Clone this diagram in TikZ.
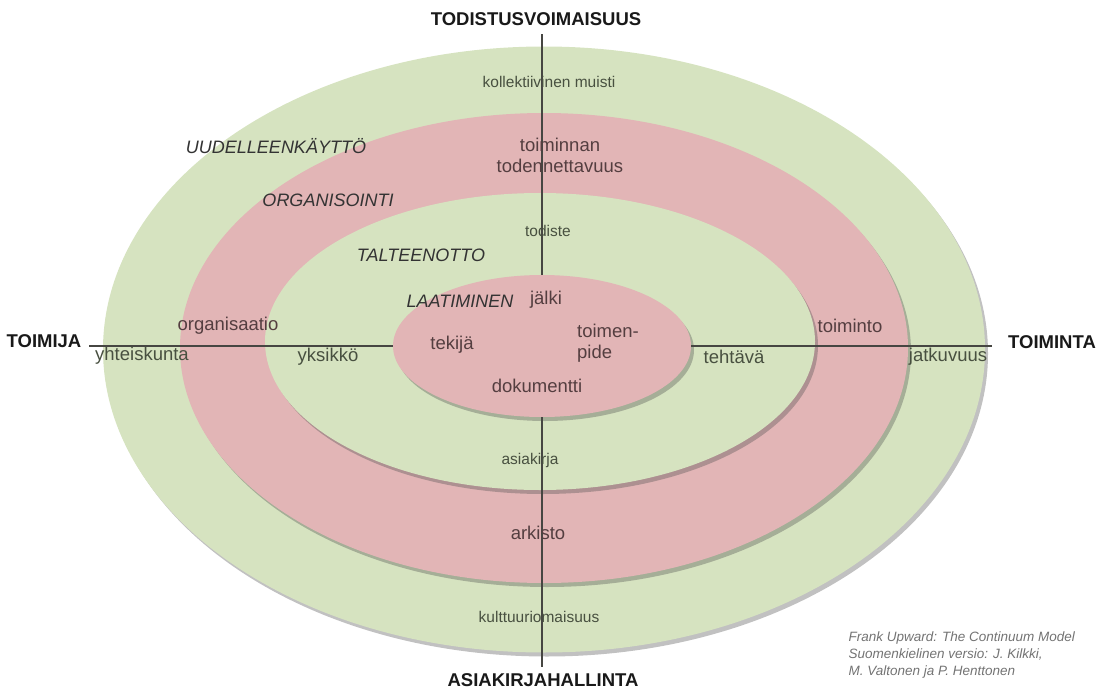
\documentclass[tikz,border=0pt]{standalone}
\usepackage{fontspec}
\setmainfont{Liberation Sans}
\usetikzlibrary{shapes.geometric,shadows}

\definecolor{ringgreen}{RGB}{214,227,192}
\definecolor{ringpink}{RGB}{226,181,182}
\definecolor{txtgreen}{RGB}{72,80,64}
\definecolor{txtpink}{RGB}{84,62,64}
\definecolor{axisline}{RGB}{70,70,66}

\tikzset{
  ring/.style={ellipse,inner sep=0pt,drop shadow={shadow xshift=3pt,shadow yshift=-4pt,opacity=0.35,fill=black!70}},
  big/.style={font=\fontsize{18.5}{21}\selectfont},
  small/.style={font=\fontsize{15.5}{18}\selectfont},
  phase/.style={font=\fontsize{18}{21}\selectfont\itshape,text=black!80},
  axis/.style={font=\fontsize{18.5}{21}\selectfont\bfseries,text=black!90,inner sep=2pt},
}

\begin{document}
\begin{tikzpicture}[x=1pt,y=-1pt]
        \useasboundingbox (0,0) rectangle (1103,693);
        % the four rings
        \node[ring,fill=ringgreen,minimum width=882pt,minimum height=606pt] (r1) at (544,349.5) {};
        \node[ring,fill=ringpink,minimum width=728pt,minimum height=470pt] (r2) at (544,348) {};
        \node[ring,fill=ringgreen,minimum width=550pt,minimum height=297pt] (r3) at (540,341.5) {};
        \node[ring,fill=ringpink,minimum width=298pt,minimum height=142pt] (r4) at (542,346) {};
        % axes
        \node[axis] (todist) at (536,19) {TODISTUSVOIMAISUUS};
        \node[axis] (toimija) at (44,341) {TOIMIJA};
        \node[axis] (toiminta) at (1052,342) {TOIMINTA};
        \node[axis] (hallinta) at (543,680) {ASIAKIRJAHALLINTA};
        \draw[axisline,line width=1.2pt] (r4.north) -- ([yshift=-6pt]r4.north |- todist.south);
        \draw[axisline,line width=1.2pt] (r4.west) -- ([xshift=5pt]r4.west -| toimija.east);
        \draw[axisline,line width=1.2pt] (r4.east) -- ([xshift=-14pt]r4.east -| toiminta.west);
        \draw[axisline,line width=1.2pt] (r4.south) -- ([yshift=4pt]r4.south |- hallinta.north);
        % phases
        \node[phase] (uudel) at (276,146) {UUDELLEENKÄYTTÖ};
        \node[phase] (organ) at (328,200) {ORGANISOINTI};
        \node[phase] (talte) at (421,255) {TALTEENOTTO};
        \node[phase] (laati) at (460,301) {LAATIMINEN};
        % outer ring
        \node[small,text=txtgreen] (kollekt) at (549,82) {kollektiivinen muisti};
        \node[big,text=txtgreen] (yhteis) at (142,356) {yhteiskunta};
        \node[big,text=txtgreen] (jatku) at (948,357) {jatkuvuus};
        \node[small,text=txtgreen] (kultt) at (539,617) {kulttuuriomaisuus};
        % second ring
        \node[big,text=txtpink,align=center] (todenn) at (560,155) {toiminnan\\todennettavuus};
        \node[big,text=txtpink] (organi) at (228,326) {organisaatio};
        \node[big,text=txtpink] (toimin) at (850,326) {toiminto};
        \node[big,text=txtpink] (arkisto) at (538,533) {arkisto};
        % third ring
        \node[small,text=txtgreen] (todiste) at (548,231) {todiste};
        \node[big,text=txtgreen] (yksikko) at (328,357) {yksikkö};
        \node[big,text=txtgreen] (tehtava) at (734,357) {tehtävä};
        \node[small,text=txtgreen] (asiak) at (530,460) {asiakirja};
        % inner ring
        \node[big,text=txtpink] (jalki) at (546,300) {jälki};
        \node[big,text=txtpink] (tekija) at (452,345) {tekijä};
        \node[big,text=txtpink,align=left] (toimenp) at (608,343) {toimen-\\pide};
        \node[big,text=txtpink] (dokum) at (537,386) {dokumentti};
        % source
        \node[font=\fontsize{13.5}{17}\selectfont\itshape,text=black!55,align=left,anchor=west] (lahde) at (845,655) {Frank Upward: The Continuum Model\\Suomenkielinen versio: J. Kilkki,\\M. Valtonen ja P. Henttonen};
      \end{tikzpicture}
\end{document}
